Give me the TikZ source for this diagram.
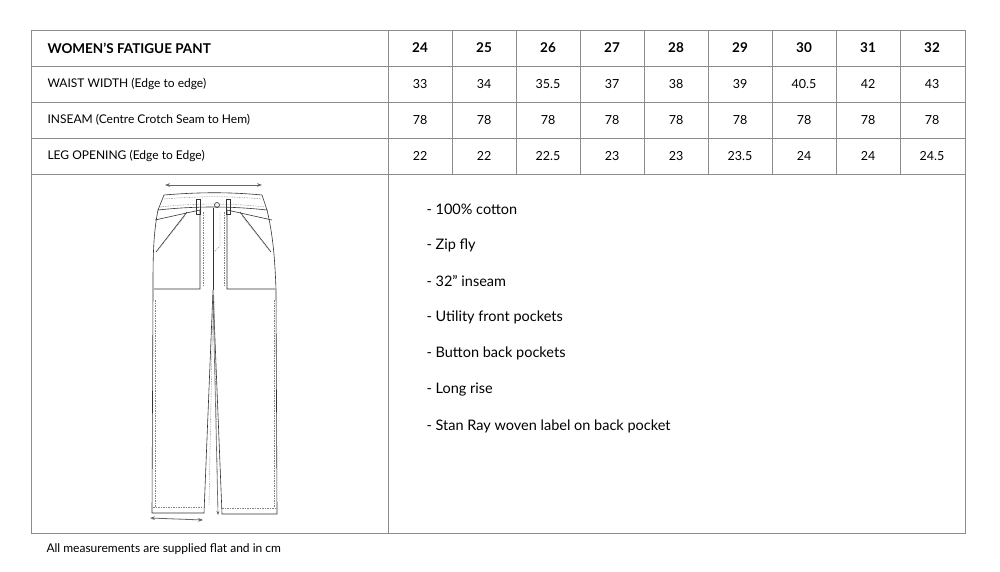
\documentclass[tikz,border=0pt]{standalone}
\usepackage{fontspec}
\setmainfont{Lato}
\usetikzlibrary{arrows.meta}
\begin{document}
\begin{tikzpicture}[x=1pt,y=-1pt,
  grid/.style={draw=black!45,line width=0.7pt},
  hd/.style={font=\fontsize{13.5}{15}\selectfont\bfseries},
  cell/.style={font=\fontsize{12.5}{14}\selectfont},
  lab/.style={font=\fontsize{12}{14}\selectfont,anchor=west},
  bul/.style={font=\fontsize{14.5}{16}\selectfont,anchor=west},
  pant/.style={draw=black!80,line width=0.6pt},
  stitch/.style={draw=black!50,line width=0.35pt,dash pattern=on 1.5pt off 1pt},
  meas/.style={draw=black!60,line width=0.8pt,{Stealth[length=5pt]}-{Stealth[length=5pt]}}]
\useasboundingbox (0,0) rectangle (1000,571);
\fill[white] (0,0) rectangle (1000,571);
% grid
\draw[grid] (31,30) rectangle (965,533);
\foreach \y in {66,102,138,174} \draw[grid] (31,\y) -- (965,\y);
\draw[grid] (388,30) -- (388,533);
\foreach \i in {1,...,8} \draw[grid] ({388+64*\i},30) -- ({388+64*\i},174);
% header
\node[hd,anchor=west] (title) at (44,48) {WOMEN’S FATIGUE PANT};
\foreach \s [count=\i] in {24,25,26,27,28,29,30,31,32}
  \node[hd] (h\i) at ({388+64*\i-32},48) {\s};
\node[lab] (r1) at (44,84) {WAIST WIDTH (Edge to edge)};
\node[lab] (r2) at (44,120) {INSEAM (Centre Crotch Seam to Hem)};
\node[lab] (r3) at (44,156) {LEG OPENING (Edge to Edge)};
\foreach \s [count=\i] in {33,34,35.5,37,38,39,40.5,42,43}
  \node[cell] (a\i) at ({388+64*\i-32},84) {\s};
\foreach \s [count=\i] in {78,78,78,78,78,78,78,78,78}
  \node[cell] (b\i) at ({388+64*\i-32},120) {\s};
\foreach \s [count=\i] in {22,22,22.5,23,23,23.5,24,24,24.5}
  \node[cell] (c\i) at ({388+64*\i-32},156) {\s};
% bullets
\foreach \t [count=\i] in {- 100\% cotton,- Zip fly,- 32" inseam,- Utility front pockets,- Button back pockets,- Long rise,- Stan Ray woven label on back pocket}
  \node[bul] (f\i) at (423,{209+36.2*(\i-1)}) {\t};
\node[anchor=west,font=\fontsize{12}{13}\selectfont] (foot) at (43,549) {All measurements are supplied flat and in cm};
% pants
\draw[pant] (164,195) .. controls (200,192) and (230,192) .. (262,195) -- (267,210) .. controls (230,206) and (195,206) .. (158,210) -- cycle;
\draw[stitch] (164,199) .. controls (200,196) and (230,196) .. (262,199);
\draw[stitch] (160,207) .. controls (195,203) and (230,203) .. (265,207);
\draw[pant] (158,210) .. controls (153,235) and (153,260) .. (153,290) -- (152,513) -- (204,513) -- (213,290) -- (222,514) -- (277,514) -- (276,290) .. controls (275,260) and (273,235) .. (267,210);
\draw[stitch] (155,300) -- (155,507);
\draw[stitch] (274,300) -- (274,507);
\draw[stitch] (153,507) -- (203,507);
\draw[stitch] (222,508) -- (276,508);
\draw[stitch] (213,296) -- (209,505);
\draw[stitch] (214,296) -- (218,507);
% pockets
\draw[pant] (155,220) -- (200,210) -- (200,289) -- (154,289);
\draw[pant] (272,220) -- (227,210) -- (227,289) -- (275,289);
\draw[pant] (156,252) -- (187,212);
\draw[pant] (271,252) -- (240,212);
\draw[stitch] (158,250) -- (185,216);
\draw[stitch] (269,250) -- (242,216);
\draw[stitch] (203,212) -- (203,287);
\draw[stitch] (224,212) -- (224,287);
% belt loops
\draw[pant] (196,199) rectangle (200,214);
\draw[pant] (226,199) rectangle (230,214);
% fly
\draw[pant] (213,208) -- (213,290);
\draw[stitch] (220,212) -- (220,246) -- (214,252);
\draw[pant] (217,205) circle (2.5);
% measures
\coordinate (wl) at (165,185); \coordinate (wr) at (262,185);
\draw[meas] (wl) -- (wr);
\coordinate (ll) at (150,518); \coordinate (lr) at (203,520);
\draw[meas] (ll) -- (lr);
\coordinate (it) at (213,295); \coordinate (ib) at (218,515);
\draw[draw=black!60,line width=0.6pt,-{Stealth[length=4pt]}] (it) -- (ib);
\end{tikzpicture}
\end{document}
